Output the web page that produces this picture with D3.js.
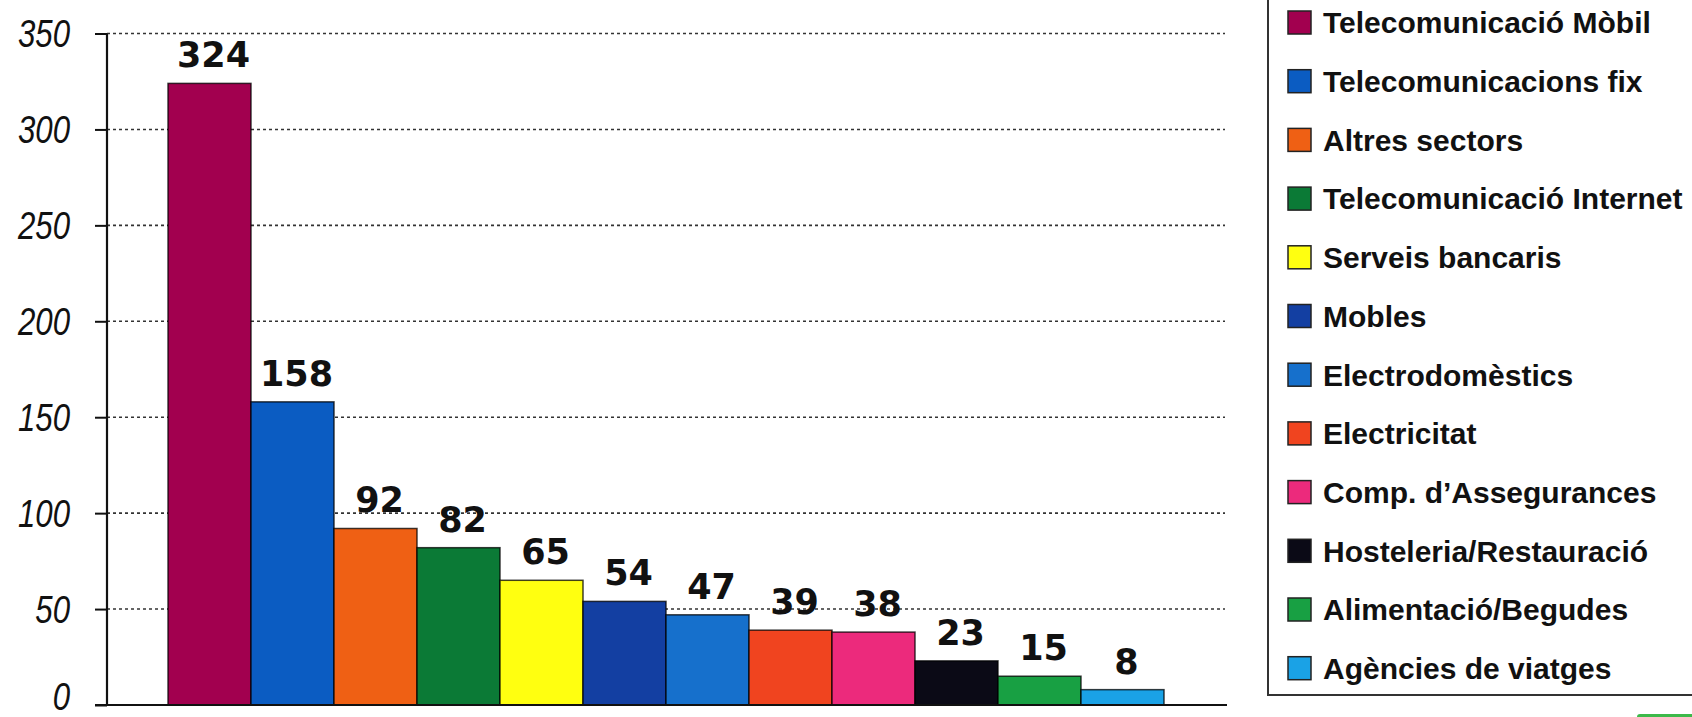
<!DOCTYPE html>
<html>
<head>
<meta charset="utf-8">
<script src="https://cdn.jsdelivr.net/npm/d3@7"></script>
<style>
html,body{margin:0;padding:0;background:#fff;}
svg{display:block;}
</style>
</head>
<body>
<svg id="chart" width="1692" height="717"></svg>
<script>
const categories = ["Telecomunicació Mòbil","Telecomunicacions fix","Altres sectors","Telecomunicació Internet","Serveis bancaris","Mobles","Electrodomèstics","Electricitat","Comp. d’Assegurances","Hosteleria/Restauració","Alimentació/Begudes","Agències de viatges"];
const values = [324,158,92,82,65,54,47,39,38,23,15,8];
const colors = ["#A2004F","#0B5CC2","#EF6014","#0B7A36","#FFFF10","#133FA2","#1670CC","#F0441F","#EC2A7C","#0B0A16","#18A043","#1AA2E6"];
const yTicks = [0,50,100,150,200,250,300,350];

const svg = d3.select("#chart");
const y = d3.scaleLinear().domain([0,350]).range([705,33.5]);
const x = d3.scaleBand().domain(categories).range([168,1164]).padding(0);

// gridlines
svg.append("g").selectAll("line").data(yTicks.filter(d=>d>0)).join("line")
  .attr("x1",107).attr("x2",1225)
  .attr("y1",d=>y(d)).attr("y2",d=>y(d))
  .attr("stroke","#333").attr("stroke-width",1.6)
  .attr("stroke-dasharray","3,3");

// y axis
const sx = 0.8;
const yAxis = d3.axisLeft(y).tickValues(yTicks).tickSize(12).tickPadding(25).tickFormat(d3.format("d"));
const ga = svg.append("g").attr("transform","translate(107,0)").call(yAxis);
ga.select(".domain").attr("stroke","#111").attr("stroke-width",2.2).attr("d","M0,33.5V705");
ga.selectAll(".tick line").attr("stroke","#111").attr("stroke-width",2);
ga.selectAll(".tick text")
  .attr("font-family","'Liberation Sans',Arial,sans-serif")
  .attr("font-style","italic")
  .attr("font-size",39)
  .attr("fill","#111")
  .attr("x",-37/sx)
  .attr("dy","0.34em")
  .attr("transform",d=>`translate(0,${d===0?-9:0}) scale(${sx},1)`);

// bars
svg.append("g").selectAll("rect").data(values).join("rect")
  .attr("x",(d,i)=>x(categories[i]))
  .attr("y",d=>y(d))
  .attr("width",x.bandwidth())
  .attr("height",d=>y(0)-y(d))
  .attr("fill",(d,i)=>colors[i])
  .attr("stroke","rgba(0,0,0,0.75)")
  .attr("stroke-width",1.5);

// baseline
svg.append("line").attr("x1",95).attr("x2",1227).attr("y1",y(0)).attr("y2",y(0))
  .attr("stroke","#111").attr("stroke-width",2.2);

// value labels
svg.append("g").selectAll("text").data(values).join("text")
  .attr("x",(d,i)=>x(categories[i])+x.bandwidth()/2+4)
  .attr("y",d=>y(d)-16)
  .attr("text-anchor","middle")
  .attr("font-family","'DejaVu Sans',Verdana,sans-serif")
  .attr("font-weight","bold")
  .attr("font-size",35)
  .attr("fill","#111")
  .text(d=>d);

// legend box
svg.append("path").attr("d","M1268,0V695H1692").attr("fill","none")
  .attr("stroke","#333").attr("stroke-width",2);

const lg = svg.append("g").selectAll("g").data(categories).join("g")
  .attr("transform",(d,i)=>`translate(1288,${22.5+i*58.7})`);
lg.append("rect").attr("x",0).attr("y",-11.5).attr("width",23).attr("height",23)
  .attr("fill",(d,i)=>colors[i]).attr("stroke","#222").attr("stroke-width",1.5);
lg.append("text").attr("x",35).attr("y",0).attr("dy","0.36em")
  .attr("font-family","'Liberation Sans',Arial,sans-serif")
  .attr("font-weight","bold").attr("font-size",30).attr("fill","#111")
  .text(d=>d);

// small green mark at bottom right
svg.append("rect").attr("x",1637).attr("y",714).attr("width",60).attr("height",6).attr("rx",3)
  .attr("fill","#3cb94a");
</script>
</body>
</html>
